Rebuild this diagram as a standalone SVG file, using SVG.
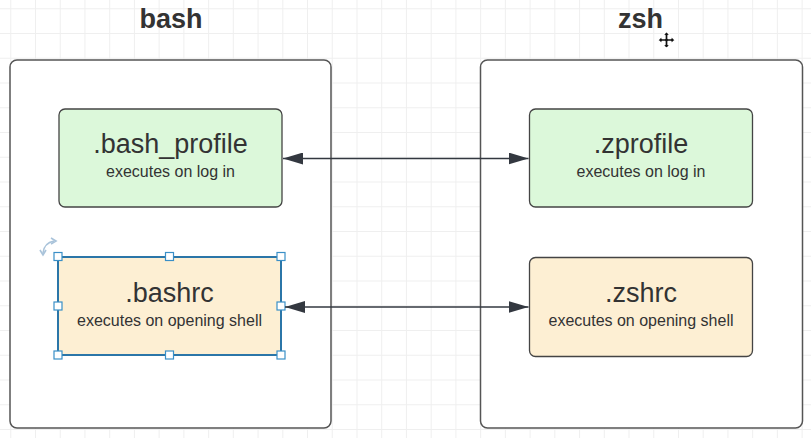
<svg xmlns="http://www.w3.org/2000/svg" width="811" height="438" viewBox="0 0 811 438">
<defs>
<pattern id="grid" x="10.27" y="8.25" width="24.73" height="24.75" patternUnits="userSpaceOnUse">
<path d="M0.5 0V24.75M0 0.5H24.73" fill="none" stroke="#efefef" stroke-width="1"/>
</pattern>
<marker id="ah" viewBox="0 0 20 12" refX="20" refY="6" markerWidth="20" markerHeight="12" markerUnits="userSpaceOnUse" orient="auto-start-reverse">
<path d="M0 0L20 6L0 12Z" fill="#333840"/>
</marker>
</defs>
<style>
.title{font-family:"Liberation Sans",Arial,sans-serif;font-weight:bold;font-size:27px;fill:#333;text-anchor:middle}
.cont{fill:#fff;stroke:#555;stroke-width:1.5}
.green{fill:#dcf8da;stroke:#444;stroke-width:1.3}
.yellow{fill:#fdefd3;stroke:#444;stroke-width:1.3}
.main{font-family:"Liberation Sans",Arial,sans-serif;font-size:27px;fill:#333;text-anchor:middle}
.sub{font-family:"Liberation Sans",Arial,sans-serif;font-size:16px;fill:#333;text-anchor:middle}
.conn{stroke:#333840;stroke-width:1.5;fill:none}
.handle{fill:#fff;stroke:#3a8fc7;stroke-width:1.2}
</style>
<rect width="811" height="438" fill="#fff"/>
<rect width="811" height="438" fill="url(#grid)"/>
<text class="title" x="171" y="28">bash</text>
<text class="title" x="640.5" y="28">zsh</text>
<g id="bash-container"><rect class="cont" x="10" y="60" width="321" height="368" rx="7"/></g>
<g id="zsh-container"><rect class="cont" x="480.5" y="60" width="322" height="368" rx="7"/></g>
<g id="bash_profile">
<rect class="green" x="59" y="109" width="223" height="98" rx="6"/>
<text class="main" x="170.5" y="153">.bash_profile</text>
<text class="sub" x="170.5" y="177">executes on log in</text>
</g>
<g id="zprofile">
<rect class="green" x="529.5" y="109" width="223" height="98" rx="6"/>
<text class="main" x="641" y="153">.zprofile</text>
<text class="sub" x="641" y="177">executes on log in</text>
</g>
<g id="bashrc">
<rect class="yellow" x="58" y="257" width="223" height="98" rx="3" style="stroke:#2b76a8;stroke-width:2"/>
<text class="main" x="169.5" y="302">.bashrc</text>
<text class="sub" x="169.5" y="326">executes on opening shell</text>
<rect class="handle" x="54" y="252.5" width="8" height="8"/>
<rect class="handle" x="165.5" y="252.5" width="8" height="8"/>
<rect class="handle" x="277" y="252.5" width="8" height="8"/>
<rect class="handle" x="54" y="302" width="8" height="8"/>
<rect class="handle" x="277" y="302" width="8" height="8"/>
<rect class="handle" x="54" y="351" width="8" height="8"/>
<rect class="handle" x="165.5" y="351" width="8" height="8"/>
<rect class="handle" x="277" y="351" width="8" height="8"/>
<path d="M43 253 Q44 243 54 241" fill="none" stroke="#a9c3da" stroke-width="1.6"/>
<path d="M40 250L43 255L46 250" fill="none" stroke="#a9c3da" stroke-width="1.6"/>
<path d="M51 238L56 241L51 244" fill="none" stroke="#a9c3da" stroke-width="1.6"/>
</g>
<g id="zshrc">
<rect class="yellow" x="529.5" y="257.5" width="223" height="99" rx="6"/>
<text class="main" x="641" y="302">.zshrc</text>
<text class="sub" x="641" y="326">executes on opening shell</text>
</g>
<g id="connectors">
<line class="conn" x1="283" y1="158.5" x2="528.5" y2="158.5" marker-start="url(#ah)" marker-end="url(#ah)"/>
<line class="conn" x1="285" y1="307" x2="528.5" y2="307" marker-start="url(#ah)" marker-end="url(#ah)"/>
</g>
<g id="cursor" transform="translate(666.5 40)">
<path d="M0 -8.5L4 -4.5H1.5V-1.5H4.5V-4L8.5 0L4.5 4V1.5H1.5V4.5H4L0 8.5L-4 4.5H-1.5V1.5H-4.5V4L-8.5 0L-4.5 -4V-1.5H-1.5V-4.5H-4Z" fill="#111" stroke="#fff" stroke-width="1.3" stroke-linejoin="round"/>
</g>
</svg>
